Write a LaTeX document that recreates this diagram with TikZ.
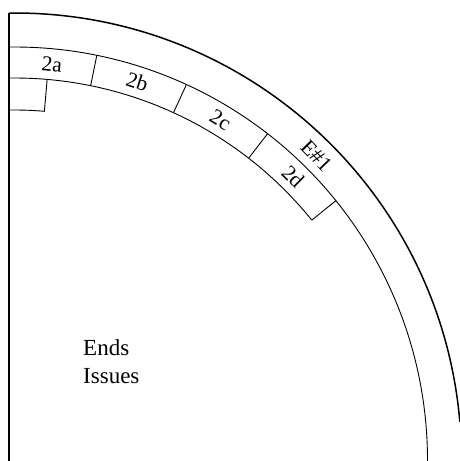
\documentclass[tikz,border=0pt]{standalone}
\usepackage{fontspec}
\setmainfont{Liberation Serif}
\begin{document}
\begin{tikzpicture}[x=1pt,y=1pt,
  rim/.style={line width=1.5pt},
  wall/.style={line width=1.7pt},
  edge/.style={line width=0.9pt},
  lbl/.style={font=\fontsize{21.5}{25}\selectfont, inner sep=0pt},
  big/.style={font=\fontsize{23}{27}\selectfont, inner sep=0pt, anchor=base west}]
\useasboundingbox (0,0) rectangle (460,461);
\coordinate (C) at (14.5,1);
% outer rim
\draw[rim] ([shift={(90.7:447)}]C) arc[start angle=90.7, end angle=4.9, radius=447];
% left wall
\draw[wall] (9,0) -- (9,448);
% inner arc
\draw[edge] ([shift={(90.76:413)}]C) arc[start angle=90.76, end angle=-0.2, radius=413];
% box band lower arc
\draw[edge] ([shift={(90.8:382)}]C) arc[start angle=90.8, end angle=38.9, radius=382];
% dividers
\foreach \a in {78.5,65.4,52.2,38.9}
  \draw[edge] ([shift={(\a:382)}]C) -- ([shift={(\a:413)}]C);
% small box under 2a
\draw[edge] ([shift={(85.1:382)}]C) -- ([shift={(85.1:350)}]C)
  arc[start angle=85.1, end angle=90.9, radius=350];
% labels
\node[lbl, rotate=-5.4] (l2a) at ([shift={(84.6:397.5)}]C) {2a};
\node[lbl, rotate=-18]  (l2b) at ([shift={(72:397.5)}]C) {2b};
\node[lbl, rotate=-31.2] (l2c) at ([shift={(58.8:397.5)}]C) {2c};
\node[lbl, rotate=-44.5] (l2d) at ([shift={(45.5:397.5)}]C) {2d};
\node[lbl, rotate=-46] (le1) at ([shift={(45.2:428.5)}]C) {E\#1};
\node[big] (ends) at (83,105) {Ends};
\node[big] (issues) at (83,77) {Issues};
\end{tikzpicture}
\end{document}
